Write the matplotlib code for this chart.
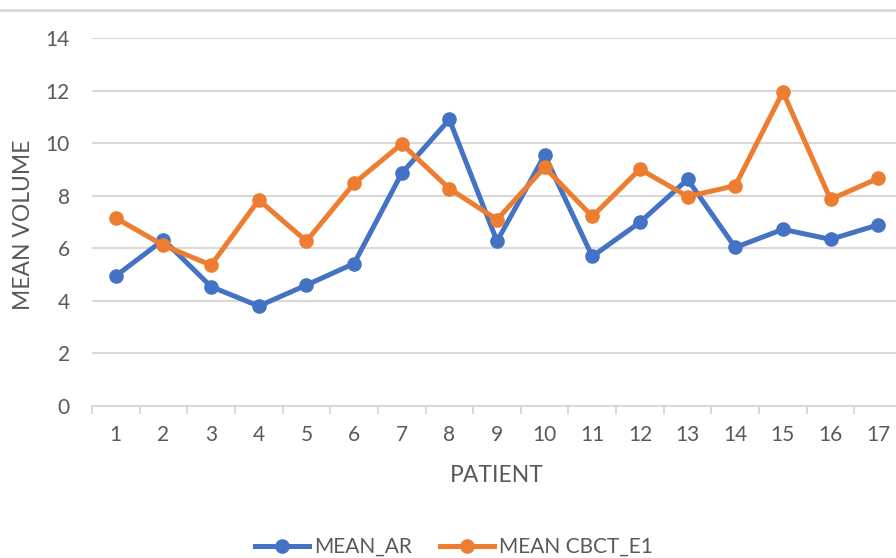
import matplotlib.pyplot as plt
from matplotlib.lines import Line2D

patients = list(range(1, 18))
mean_ar = [4.95, 6.32, 4.54, 3.80, 4.60, 5.42, 8.85, 10.90, 6.27, 9.54, 5.69, 6.99, 8.62, 6.03, 6.72, 6.34, 6.89]
mean_cbct_e1 = [7.15, 6.11, 5.36, 7.84, 6.27, 8.47, 9.97, 8.27, 7.09, 9.08, 7.21, 9.01, 7.97, 8.38, 11.95, 7.86, 8.66]

blue = "#4472C4"
orange = "#ED7D31"
text_color = "#595959"
grid_color = "#D9D9D9"

plt.rcParams['font.family'] = ['Lato', 'DejaVu Sans']

fig = plt.figure(figsize=(8.96, 5.58), dpi=100)
ax = fig.add_axes([92 / 896, 1 - 406 / 558, 810 / 896, 368 / 558])

ax.plot(patients, mean_ar, color=blue, lw=3.6, marker='o', markersize=9.5, label="MEAN_AR", zorder=3)
ax.plot(patients, mean_cbct_e1, color=orange, lw=3.6, marker='o', markersize=9.5, label="MEAN CBCT_E1", zorder=4)

ax.set_xlim(0.5, 17.5)
ax.set_ylim(0, 14)
ax.set_yticks(range(0, 15, 2))
ax.set_xticks(patients)
ax.set_xticks([p + 0.5 for p in range(0, 18)], minor=True)

ax.yaxis.grid(True, color=grid_color, lw=1.5)
ax.set_axisbelow(True)
for side in ["top", "right", "left"]:
    ax.spines[side].set_visible(False)
ax.spines["bottom"].set_color(grid_color)
ax.spines["bottom"].set_linewidth(1.5)

ax.tick_params(axis='y', length=0, pad=16, labelsize=15, labelcolor=text_color)
ax.tick_params(axis='x', which='major', length=0, pad=14, labelsize=15, labelcolor=text_color)
ax.tick_params(axis='x', which='minor', length=6, width=1.5, color=grid_color)

fig.text(23 / 896, 1 - 225 / 558, "MEAN VOLUME", rotation=90, ha='center', va='center',
         fontsize=16.5, color=text_color)
fig.text(497 / 896, 1 - 476 / 558, "PATIENT", ha='center', va='center', fontsize=16.5, color=text_color)

# outer chart border line at the top
fig.add_artist(Line2D([0, 1], [1 - 10 / 558, 1 - 10 / 558], color=grid_color, lw=2))

leg = fig.legend(loc='center', bbox_to_anchor=(454 / 896, 1 - 547 / 558), ncol=2, frameon=False,
                 fontsize=15, handlelength=2.6, handletextpad=0.25, columnspacing=1.35)
for t in leg.get_texts():
    t.set_color(text_color)

fig.savefig("out.png", dpi=100)
